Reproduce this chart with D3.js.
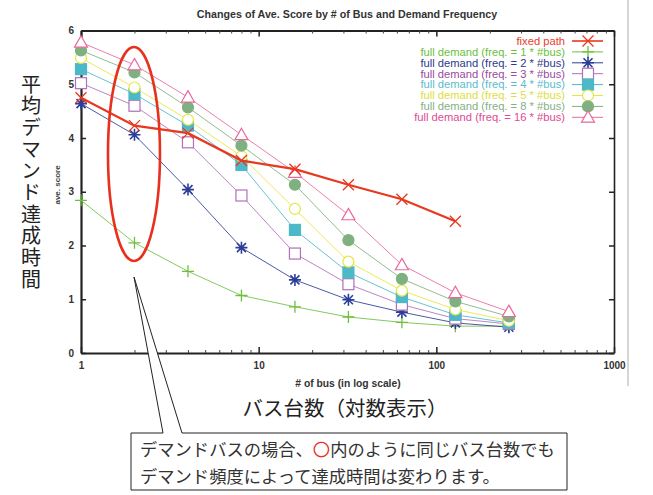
<!DOCTYPE html>
<html><head><meta charset="utf-8">
<script src="https://cdn.jsdelivr.net/npm/d3@7"></script>
<style>
html,body{margin:0;padding:0;background:#fff;}
svg{display:block;}
</style></head>
<body>
<svg id="chart" width="653" height="495"></svg>
<script>
// ---- data ----
const busCounts = [1, 2, 4, 8, 16, 32, 64, 128, 256];
const fixedPath = [4.75, 4.23, 4.09, 3.58, 3.42, 3.13, 2.86, 2.45];
const freq1  = [2.84, 2.05, 1.52, 1.07, 0.86, 0.67, 0.57, 0.50, 0.50];
const freq2  = [4.64, 4.06, 3.04, 1.96, 1.36, 0.99, 0.76, 0.56, 0.48];
const freq3  = [5.02, 4.60, 3.92, 2.93, 1.85, 1.28, 0.90, 0.64, 0.54];
const freq4  = [5.28, 4.82, 4.23, 3.50, 2.29, 1.50, 1.04, 0.71, 0.56];
const freq5  = [5.49, 4.94, 4.34, 3.66, 2.68, 1.70, 1.16, 0.81, 0.60];
const freq8  = [5.63, 5.22, 4.57, 3.86, 3.13, 2.10, 1.38, 0.96, 0.68];
const freq16 = [5.78, 5.36, 4.76, 4.06, 3.36, 2.57, 1.64, 1.12, 0.77];
const seriesNames = ["fixed path", "full demand (freq. = 1 * #bus)", "full demand (freq. = 2 * #bus)",
  "full demand (freq. = 3 * #bus)", "full demand (freq. = 4 * #bus)", "full demand (freq. = 5 * #bus)",
  "full demand (freq. = 8 * #bus)", "full demand (freq. = 16 * #bus)"];
const xMajorTicks = [1, 10, 100, 1000];
const yTicks = [0, 1, 2, 3, 4, 5, 6];
const titleText = "Changes of Ave. Score by # of Bus and Demand Frequency";
const xLabel = "# of bus (in log scale)";
const yLabel = "ave. score";
const xLabelJa = "バス台数（対数表示）";
const yLabelJa = "平均デマンド達成時間";
const noteLine1a = "デマンドバスの場合、";
const noteLine1b = "〇";
const noteLine1c = "内のように同じバス台数でも";
const noteLine2 = "デマンド頻度によって達成時間は変わります。";

// ---- styles ----
const styles = [
  {color:"#e8381f", text:"#e8402a", marker:"x", width:2.2, filled:false},
  {color:"#6fbf3f", text:"#6abf3a", marker:"plus", width:1, filled:false},
  {color:"#2b3d96", text:"#2e3a8c", marker:"star", width:1, filled:false},
  {color:"#b070b8", text:"#9b4aa0", marker:"square", width:1, filled:false},
  {color:"#4cb8c8", text:"#5bbccc", marker:"square", width:1, filled:true},
  {color:"#e6e640", text:"#dede3a", marker:"circle", width:1, filled:false},
  {color:"#7fb07f", text:"#86b086", marker:"circle", width:1, filled:true},
  {color:"#e8689e", text:"#dd4b94", marker:"triangle", width:1, filled:false}
];
const allSeries = [fixedPath, freq1, freq2, freq3, freq4, freq5, freq8, freq16];

const svg = d3.select("#chart");
const x = d3.scaleLog().domain([1, 1000]).range([81, 614]);
const y = d3.scaleLinear().domain([0, 6]).range([353, 30.5]);

// right frame shadow line
svg.append("line").attr("x1",628).attr("x2",628).attr("y1",0).attr("y2",386)
  .attr("stroke","#c8c8c8").attr("stroke-width",1.5);

// title
svg.append("text").attr("x",347).attr("y",18).attr("text-anchor","middle")
  .attr("font-family","Liberation Sans, Arial, sans-serif").attr("font-size",10.7).attr("font-weight","bold")
  .attr("fill","#333").text(titleText);

// minor tick values
const minor = [];
[1,10,100].forEach(d => { for (let k=2;k<=9;k++) minor.push(d*k); });

const axFont = g => g.attr("font-family","Liberation Sans, Arial, sans-serif").attr("font-weight","bold").attr("font-size",10);

// bottom axis
const gb = svg.append("g").attr("transform",`translate(0,${y(0)})`)
  .call(d3.axisBottom(x).tickValues(xMajorTicks).tickFormat(d3.format("d")).tickSizeInner(-6).tickSizeOuter(0).tickPadding(9))
  .call(axFont);
gb.select(".domain").attr("stroke","#222").attr("stroke-width",2.2);
gb.selectAll(".tick line").attr("stroke","#222").attr("stroke-width",1.5);
gb.selectAll(".tick text").attr("fill","#333");
const gbm = svg.append("g").attr("transform",`translate(0,${y(0)})`)
  .call(d3.axisBottom(x).tickValues(minor).tickFormat("").tickSizeInner(-3).tickSizeOuter(0));
gbm.select(".domain").remove();
gbm.selectAll(".tick line").attr("stroke","#444");

// top axis
const gt = svg.append("g").attr("transform",`translate(0,${y(6)})`)
  .call(d3.axisTop(x).tickValues(xMajorTicks).tickFormat("").tickSizeInner(-6).tickSizeOuter(0));
gt.select(".domain").attr("stroke","#222").attr("stroke-width",2.2);
gt.selectAll(".tick line").attr("stroke","#222").attr("stroke-width",1.5);
const gtm = svg.append("g").attr("transform",`translate(0,${y(6)})`)
  .call(d3.axisTop(x).tickValues(minor).tickFormat("").tickSizeInner(-3).tickSizeOuter(0));
gtm.select(".domain").remove();
gtm.selectAll(".tick line").attr("stroke","#444");

// left axis
const gl = svg.append("g").attr("transform",`translate(${x(1)},0)`)
  .call(d3.axisLeft(y).tickValues(yTicks).tickFormat(d3.format("d")).tickSizeInner(-5).tickSizeOuter(0).tickPadding(7))
  .call(axFont);
gl.select(".domain").attr("stroke","#222").attr("stroke-width",2.2);
gl.selectAll(".tick line").attr("stroke","#222").attr("stroke-width",1.5);
gl.selectAll(".tick text").attr("fill","#333");

// right axis
const gr = svg.append("g").attr("transform",`translate(${x(1000)},0)`)
  .call(d3.axisRight(y).tickValues(yTicks).tickFormat("").tickSizeInner(-5).tickSizeOuter(0));
gr.select(".domain").attr("stroke","#222").attr("stroke-width",1.6);
gr.selectAll(".tick line").attr("stroke","#222").attr("stroke-width",1.5);

// axis labels
svg.append("text").attr("x",348).attr("y",387).attr("text-anchor","middle")
  .attr("font-family","Liberation Sans, Arial, sans-serif").attr("font-size",10.3).attr("font-weight","bold")
  .attr("fill","#333").text(xLabel);
svg.append("text").attr("transform","translate(60,185) rotate(-90)").attr("text-anchor","middle")
  .attr("font-family","Liberation Sans, Arial, sans-serif").attr("font-size",8).attr("font-weight","bold")
  .attr("fill","#444").text(yLabel);
svg.append("text").attr("x",345).attr("y",416).attr("text-anchor","middle")
  .attr("font-family","Noto Sans CJK JP, sans-serif").attr("font-size",20.5)
  .attr("fill","#222").text(xLabelJa);
svg.append("text").attr("x",31).attr("y",74)
  .attr("writing-mode","vertical-rl").attr("style","writing-mode:vertical-rl;text-orientation:upright")
  .attr("letter-spacing",1.7)
  .attr("font-family","Noto Sans CJK JP, sans-serif").attr("font-size",20).attr("fill","#222")
  .text(yLabelJa);

// marker drawer
function drawMarker(g, type, cx, cy, st) {
  const c = st.color;
  if (type === "x") {
    const s = 5.5;
    g.append("path").attr("d",`M${cx-s},${cy-s}L${cx+s},${cy+s}M${cx-s},${cy+s}L${cx+s},${cy-s}`)
      .attr("stroke",c).attr("stroke-width",1.3).attr("fill","none");
  } else if (type === "plus") {
    const s = 6;
    g.append("path").attr("d",`M${cx-s},${cy}L${cx+s},${cy}M${cx},${cy-s}L${cx},${cy+s}`)
      .attr("stroke",c).attr("stroke-width",1.3).attr("fill","none");
  } else if (type === "star") {
    const s = 6, t = 4.5;
    g.append("path").attr("d",`M${cx-s},${cy}L${cx+s},${cy}M${cx},${cy-s}L${cx},${cy+s}M${cx-t},${cy-t}L${cx+t},${cy+t}M${cx-t},${cy+t}L${cx+t},${cy-t}`)
      .attr("stroke",c).attr("stroke-width",1.6).attr("fill","none");
  } else if (type === "square") {
    const s = 5.5;
    g.append("rect").attr("x",cx-s).attr("y",cy-s).attr("width",2*s).attr("height",2*s)
      .attr("fill", st.filled ? c : "#fff").attr("stroke",c).attr("stroke-width",1.2);
  } else if (type === "circle") {
    g.append("circle").attr("cx",cx).attr("cy",cy).attr("r",5.5)
      .attr("fill", st.filled ? c : "#fff").attr("stroke",c).attr("stroke-width",1.2);
  } else if (type === "triangle") {
    const s = 6.5;
    g.append("path").attr("d",`M${cx},${cy-s}L${cx+s},${cy+s*0.75}L${cx-s},${cy+s*0.75}Z`)
      .attr("fill","#fff").attr("stroke",c).attr("stroke-width",1.2);
  }
}

// draw series: thin ones first then fixed path on top
const order = [1,2,3,4,5,6,7,0];
const line = d3.line().x(d => x(d[0])).y(d => y(d[1]));
order.forEach(i => {
  const st = styles[i];
  const pts = allSeries[i].map((v,j) => [busCounts[j], v]);
  const g = svg.append("g");
  g.append("path").attr("d", line(pts)).attr("fill","none").attr("stroke",st.color)
    .attr("stroke-width",st.width).attr("opacity", i===0 ? 1 : 0.85);
  pts.forEach(p => drawMarker(g, st.marker, x(p[0]), y(p[1]), st));
});

// legend
const lg = svg.append("g");
seriesNames.forEach((name,i) => {
  const st = styles[i];
  const ly = 41 + i*10.9;
  lg.append("text").attr("x",565).attr("y",ly+3.8).attr("text-anchor","end")
    .attr("font-family","Liberation Sans, Arial, sans-serif").attr("font-size",11.2)
    .attr("fill",st.text).text(name);
  lg.append("line").attr("x1",572).attr("x2",603).attr("y1",ly).attr("y2",ly)
    .attr("stroke",st.color).attr("stroke-width", i===0 ? 1.6 : 1);
  drawMarker(lg, st.marker, 588, ly, st);
});

// red ellipse highlight
svg.append("ellipse").attr("cx",x(2)-0.5).attr("cy",154).attr("rx",26).attr("ry",107)
  .attr("fill","none").attr("stroke","#e8301e").attr("stroke-width",2.6);

// callout bubble
const bx0 = 131, bx1 = 567, by0 = 433, by1 = 490;
svg.append("path")
  .attr("d",`M${bx0},${by0}L163,${by0}L134,277L182,${by0}L${bx1},${by0}L${bx1},${by1}L${bx0},${by1}Z`)
  .attr("fill","#fff").attr("stroke","#222").attr("stroke-width",1);

const nt = svg.append("g").attr("font-family","Noto Sans CJK JP, sans-serif").attr("font-size",17.3).attr("fill","#333");
const t1 = nt.append("text").attr("x",140).attr("y",456);
t1.append("tspan").text(noteLine1a);
t1.append("tspan").attr("fill","#e8301e").text(noteLine1b);
t1.append("tspan").text(noteLine1c);
nt.append("text").attr("x",140).attr("y",482.5).text(noteLine2);
</script>
</body></html>
